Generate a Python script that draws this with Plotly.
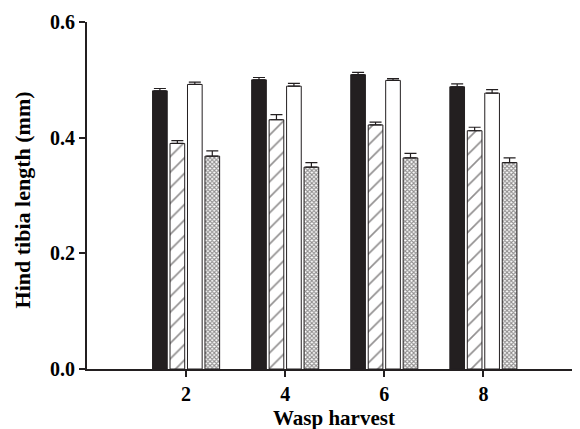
import plotly.graph_objects as go

harvest = [2, 4, 6, 8]
s1 = [0.481, 0.500, 0.509, 0.488]
s1_err = [0.004, 0.004, 0.004, 0.005]
s2 = [0.390, 0.431, 0.422, 0.412]
s2_err = [0.005, 0.009, 0.005, 0.006]
s3 = [0.492, 0.489, 0.499, 0.477]
s3_err = [0.004, 0.005, 0.003, 0.006]
s4 = [0.368, 0.349, 0.365, 0.357]
s4_err = [0.009, 0.008, 0.008, 0.008]

font_family = "Liberation Serif"
ink = "#231f20"

def err(e):
    return dict(type="data", symmetric=False, array=e, arrayminus=[0]*len(e),
                color=ink, thickness=1.2, width=6)

fig = go.Figure()
fig.add_bar(x=harvest, y=s1, error_y=err(s1_err),
            marker=dict(color=ink, line=dict(color=ink, width=1)))
fig.add_bar(x=harvest, y=s2, error_y=err(s2_err),
            marker=dict(color="white", line=dict(color=ink, width=1),
                        pattern=dict(shape="/", fgcolor=ink, bgcolor="white",
                                     size=11, solidity=0.15)))
fig.add_bar(x=harvest, y=s3, error_y=err(s3_err),
            marker=dict(color="white", line=dict(color=ink, width=1)))
fig.add_bar(x=harvest, y=s4, error_y=err(s4_err),
            marker=dict(color="white", line=dict(color=ink, width=1),
                        pattern=dict(shape="x", fgcolor=ink, bgcolor="white",
                                     size=3, solidity=0.6)))

fig.update_layout(
    width=572, height=421,
    margin=dict(l=79, r=0, t=14, b=60, autoexpand=False),
    barmode="group", bargap=0.295, bargroupgap=0.16,
    showlegend=False,
    plot_bgcolor="white", paper_bgcolor="white",
    font=dict(family=font_family, color="black"),
    annotations=[
        dict(text="Wasp harvest", xref="paper", yref="paper", x=0.501, y=-0.141,
             xanchor="center", yanchor="middle", showarrow=False,
             font=dict(size=21, family=font_family, weight="bold", color="black")),
        dict(text="Hind tibia length (mm)", xref="paper", yref="paper", x=-0.131, y=0.487,
             xanchor="center", yanchor="middle", showarrow=False, textangle=-90,
             font=dict(size=22, family=font_family, weight="bold", color="black")),
    ],
)
fig.update_xaxes(
    range=[0, 9.95], tickvals=harvest, ticktext=[str(h) for h in harvest],
    ticks="outside", ticklen=6, tickwidth=2, tickcolor=ink, automargin=False,
    showline=True, linecolor=ink, linewidth=2, showgrid=False, zeroline=False,
    tickfont=dict(size=20, family=font_family, weight="bold"),
)
fig.update_yaxes(
    range=[0, 0.6], tickvals=[0, 0.2, 0.4, 0.6], tickformat=".1f",
    ticks="outside", ticklen=6, tickwidth=2, tickcolor=ink, automargin=False,
    showline=True, linecolor=ink, linewidth=2, showgrid=False, zeroline=False,
    tickfont=dict(size=20, family=font_family, weight="bold"),
)

fig.write_html("out.html")
